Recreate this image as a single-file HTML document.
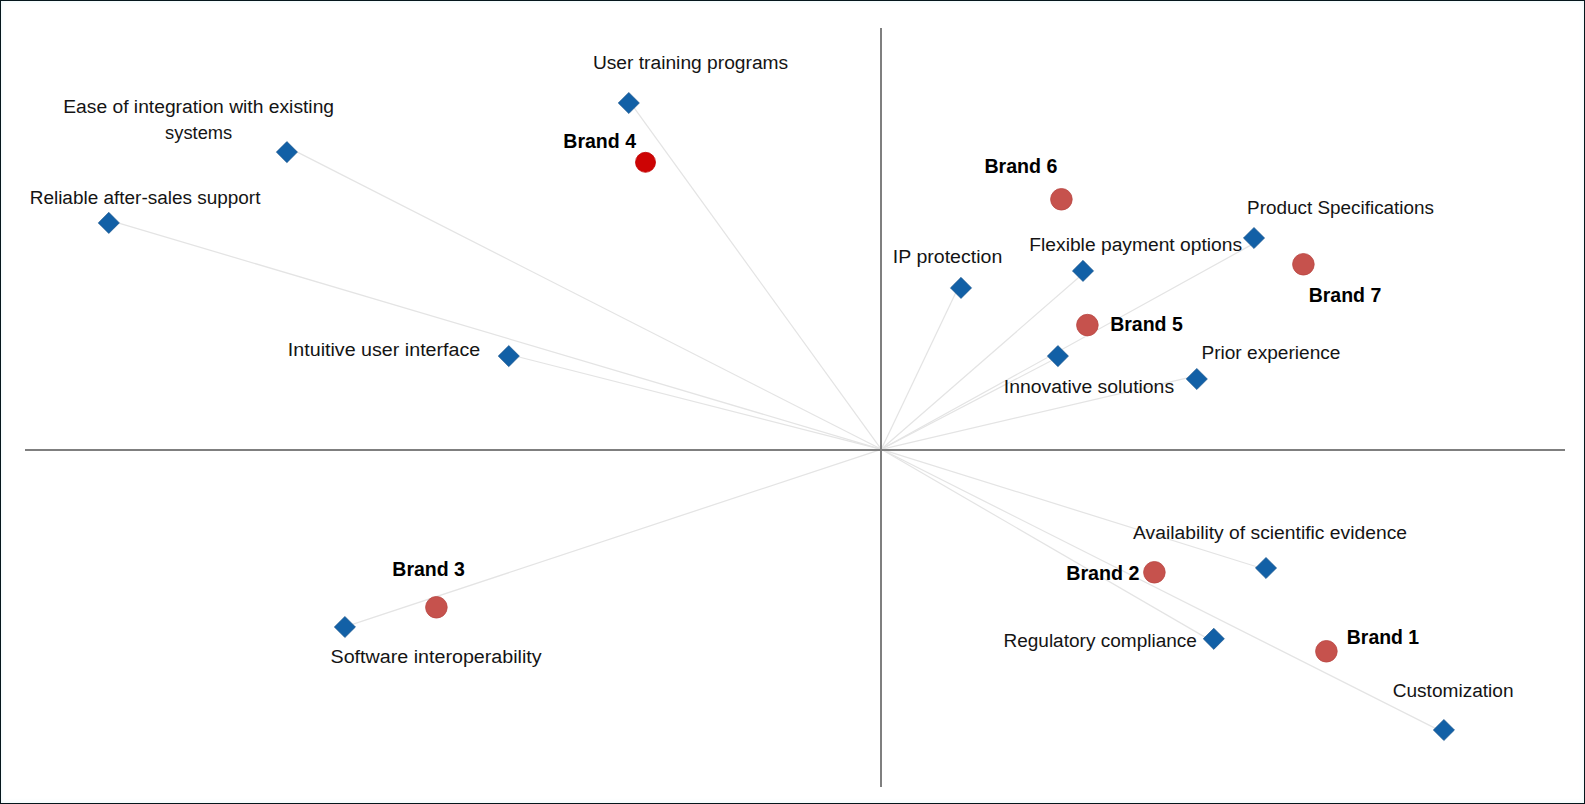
<!DOCTYPE html>
<html lang="en">
<head>
<meta charset="utf-8">
<title>Perceptual map</title>
<style>
html,body{margin:0;padding:0;background:#fff;}
body{width:1585px;height:804px;overflow:hidden;position:relative;}
#frame{position:absolute;left:0;top:0;width:1585px;height:804px;box-sizing:border-box;border:1px solid #06161c;background:#fff;box-shadow:inset 0 0 4px rgba(170,225,235,.30);}
svg{position:absolute;left:0;top:0;display:block;}
.lbl{font-family:"Liberation Sans",sans-serif;font-size:19.2px;fill:#141414;}
.brand{font-family:"Liberation Sans",sans-serif;font-size:20.1px;font-weight:bold;fill:#000;}
.ray{stroke:#e4e4e4;stroke-width:1.25;fill:none;}
.axis{stroke:#7f7f7f;stroke-width:2;fill:none;}
.dia{fill:#1260a6;stroke:#164f86;stroke-width:0.6;}
.dot{fill:#c6524d;stroke:#b94744;stroke-width:0.8;}
.hot{fill:#cd0404;stroke:#bf0000;stroke-width:0.8;}
</style>
</head>
<body>
<div id="frame"></div>
<svg width="1585" height="804" viewBox="0 0 1585 804">

<g class="rays">
<line class="ray" x1="881.3" y1="449.3" x2="630.0" y2="102.1"/>
<line class="ray" x1="881.3" y1="449.3" x2="289.0" y2="147.9"/>
<line class="ray" x1="881.3" y1="449.3" x2="109.5" y2="220.4"/>
<line class="ray" x1="881.3" y1="449.3" x2="509.2" y2="354.5"/>
<line class="ray" x1="881.3" y1="449.3" x2="958.6" y2="286.7"/>
<line class="ray" x1="881.3" y1="449.3" x2="1084.4" y2="272.5"/>
<line class="ray" x1="881.3" y1="449.3" x2="1256.3" y2="242.1"/>
<line class="ray" x1="881.3" y1="449.3" x2="1058.4" y2="357.0"/>
<line class="ray" x1="881.3" y1="449.3" x2="1196.1" y2="375.9"/>
<line class="ray" x1="881.3" y1="449.3" x2="1265.5" y2="569.5"/>
<line class="ray" x1="881.3" y1="449.3" x2="1212.3" y2="641.4"/>
<line class="ray" x1="881.3" y1="449.3" x2="1442.9" y2="732.1"/>
<line class="ray" x1="881.3" y1="449.3" x2="344.9" y2="626.9"/>
</g>
<line class="axis" x1="881" y1="28" x2="881" y2="787"/>
<line class="axis" x1="25" y1="450" x2="1565" y2="450"/>
<g class="markers">
<polygon class="dia" points="628.8,92.4 639.4,103.0 628.8,113.6 618.2,103.0"/>
<polygon class="dia" points="286.9,141.5 297.5,152.1 286.9,162.7 276.3,152.1"/>
<polygon class="dia" points="108.8,212.3 119.4,222.9 108.8,233.5 98.2,222.9"/>
<polygon class="dia" points="508.8,345.5 519.4,356.1 508.8,366.7 498.2,356.1"/>
<polygon class="dia" points="961.0,277.3 971.6,287.9 961.0,298.5 950.4,287.9"/>
<polygon class="dia" points="1083.0,260.3 1093.6,270.9 1083.0,281.5 1072.4,270.9"/>
<polygon class="dia" points="1254.0,227.4 1264.6,238.0 1254.0,248.6 1243.4,238.0"/>
<polygon class="dia" points="1057.9,345.5 1068.5,356.1 1057.9,366.7 1047.3,356.1"/>
<polygon class="dia" points="1196.8,368.4 1207.4,379.0 1196.8,389.6 1186.2,379.0"/>
<polygon class="dia" points="1266.0,557.4 1276.6,568.0 1266.0,578.6 1255.4,568.0"/>
<polygon class="dia" points="1213.8,628.2 1224.4,638.8 1213.8,649.4 1203.2,638.8"/>
<polygon class="dia" points="1443.9,719.4 1454.5,730.0 1443.9,740.6 1433.3,730.0"/>
<polygon class="dia" points="344.9,616.4 355.5,627.0 344.9,637.6 334.3,627.0"/>
<circle class="dot" cx="1061.4" cy="199.3" r="10.8"/>
<circle class="dot" cx="1303.4" cy="264.3" r="10.8"/>
<circle class="dot" cx="1087.4" cy="325.1" r="10.8"/>
<circle class="dot" cx="1154.4" cy="572.3" r="10.8"/>
<circle class="dot" cx="1326.4" cy="651.3" r="10.8"/>
<circle class="dot" cx="436.4" cy="607.3" r="10.8"/>
<circle class="hot" cx="645.5" cy="162.3" r="10.0"/>
</g>
<g class="labels">
<text class="lbl" x="592.90" y="68.50" textLength="195.29" lengthAdjust="spacingAndGlyphs">User training programs</text>
<text class="lbl" x="63.20" y="113.40" textLength="270.88" lengthAdjust="spacingAndGlyphs">Ease of integration with existing</text>
<text class="lbl" x="165.10" y="138.60" textLength="67.17" lengthAdjust="spacingAndGlyphs">systems</text>
<text class="lbl" x="29.71" y="203.50" textLength="230.73" lengthAdjust="spacingAndGlyphs">Reliable after-sales support</text>
<text class="lbl" x="287.87" y="355.70" textLength="192.41" lengthAdjust="spacingAndGlyphs">Intuitive user interface</text>
<text class="lbl" x="892.88" y="262.90" textLength="109.40" lengthAdjust="spacingAndGlyphs">IP protection</text>
<text class="lbl" x="1029.30" y="251.40" textLength="212.80" lengthAdjust="spacingAndGlyphs">Flexible payment options</text>
<text class="lbl" x="1247.12" y="213.80" textLength="186.87" lengthAdjust="spacingAndGlyphs">Product Specifications</text>
<text class="lbl" x="1003.79" y="393.10" textLength="170.31" lengthAdjust="spacingAndGlyphs">Innovative solutions</text>
<text class="lbl" x="1201.40" y="358.60" textLength="139.06" lengthAdjust="spacingAndGlyphs">Prior experience</text>
<text class="lbl" x="1133.00" y="539.40" textLength="274.07" lengthAdjust="spacingAndGlyphs">Availability of scientific evidence</text>
<text class="lbl" x="1003.41" y="647.30" textLength="193.56" lengthAdjust="spacingAndGlyphs">Regulatory compliance</text>
<text class="lbl" x="1392.70" y="696.80" textLength="120.87" lengthAdjust="spacingAndGlyphs">Customization</text>
<text class="lbl" x="330.50" y="663.10" textLength="211.18" lengthAdjust="spacingAndGlyphs">Software interoperability</text>
<text class="brand" x="563.30" y="147.60" textLength="72.70" lengthAdjust="spacingAndGlyphs">Brand 4</text>
<text class="brand" x="984.42" y="173.30" textLength="72.95" lengthAdjust="spacingAndGlyphs">Brand 6</text>
<text class="brand" x="1308.73" y="301.90" textLength="72.54" lengthAdjust="spacingAndGlyphs">Brand 7</text>
<text class="brand" x="1110.13" y="331.30" textLength="72.64" lengthAdjust="spacingAndGlyphs">Brand 5</text>
<text class="brand" x="1066.22" y="579.60" textLength="73.25" lengthAdjust="spacingAndGlyphs">Brand 2</text>
<text class="brand" x="1346.83" y="643.50" textLength="72.23" lengthAdjust="spacingAndGlyphs">Brand 1</text>
<text class="brand" x="392.33" y="576.20" textLength="72.54" lengthAdjust="spacingAndGlyphs">Brand 3</text>
</g>
</svg>
</body>
</html>
